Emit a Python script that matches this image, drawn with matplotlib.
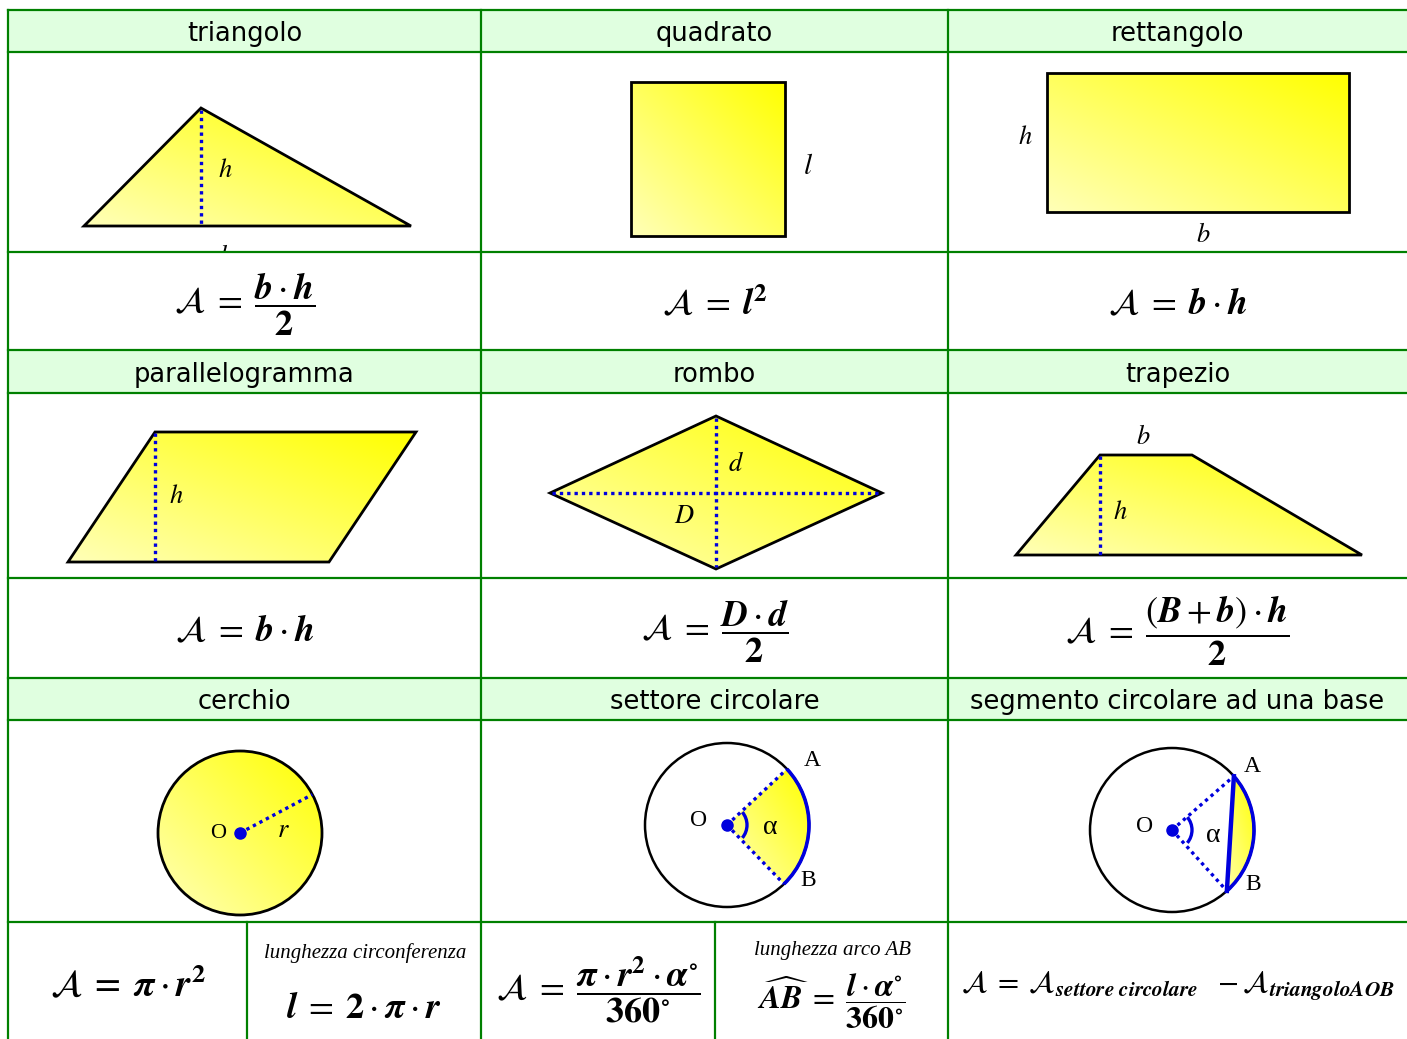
import matplotlib
matplotlib.use("Agg")
import matplotlib.pyplot as plt
import numpy as np
from matplotlib.patches import Polygon, Rectangle, Circle, Wedge, Arc
from matplotlib.colors import LinearSegmentedColormap

plt.rcParams["mathtext.fontset"] = "stix"
plt.rcParams["font.family"] = ["DejaVu Sans"]

# testi della tabella
titoli = [["triangolo", "quadrato", "rettangolo"],
          ["parallelogramma", "rombo", "trapezio"],
          ["cerchio", "settore circolare", "segmento circolare ad una base"]]
formule = [[r"$\mathcal{A}\;=\;\dfrac{\mathbfit{b} \cdot \mathbfit{h}}{\mathbf{2}}$",
            r"$\mathcal{A}\;=\;\mathbfit{l}^{\mathbf{2}}$",
            r"$\mathcal{A}\;=\;\mathbfit{b} \cdot \mathbfit{h}$"],
           [r"$\mathcal{A}\;=\;\mathbfit{b} \cdot \mathbfit{h}$",
            r"$\mathcal{A}\;=\;\dfrac{\mathbfit{D} \cdot \mathbfit{d}}{\mathbf{2}}$",
            r"$\mathcal{A}\;=\;\dfrac{(\mathbfit{B} + \mathbfit{b}) \cdot \mathbfit{h}}{\mathbf{2}}$"]]
formule_cerchi = [r"$\mathcal{A}\;=\;\mathbfit{\pi} \cdot \mathbfit{r}^{\mathbf{2}}$",
                  r"$\mathbfit{l}\;=\;\mathbf{2} \cdot \mathbfit{\pi} \cdot \mathbfit{r}$",
                  r"$\mathcal{A}\;=\;\dfrac{\mathbfit{\pi} \cdot \mathbfit{r}^{\mathbf{2}} \cdot \mathbfit{\alpha}^{\circ}}{\mathbf{360}^{\circ}}$",
                  r"$\widehat{\mathbfit{AB}}\;=\;\dfrac{\mathbfit{l} \cdot \mathbfit{\alpha}^{\circ}}{\mathbf{360}^{\circ}}$",
                  r"$\mathcal{A}\;=\;\mathcal{A}_{\mathbfit{settore\ circolare}}\ \ -\mathcal{A}_{\mathbfit{triangoloAOB}}$"]
note = ["lunghezza circonferenza", "lunghezza arco AB"]

W, H = 1407, 1039
col_x = [8, 481, 948, 1407]
row_y = [10, 52, 252, 350, 393, 578, 678, 720, 922, 1039]
verde = "#008000"
blu = "#0000dd"

giallo = LinearSegmentedColormap.from_list("giallo", ["#ffffb8", "#ffff00"])

fig = plt.figure(figsize=(W / 100, H / 100), dpi=100)
ax = fig.add_axes([0, 0, 1, 1])
ax.set_xlim(0, W)
ax.set_ylim(H, 0)
ax.axis("off")


def riempi(patch, x0, x1, y0, y1, bordo="black", lw=2):
    n = 200
    u = np.linspace(0, 1, n)
    g = (u[None, :] + u[::-1][:, None]) / 2
    im = ax.imshow(g, cmap=giallo, extent=(x0, x1, y1, y0), origin="upper",
                   aspect="auto", zorder=2, interpolation="bilinear")
    patch.set_facecolor("none")
    patch.set_edgecolor(bordo)
    patch.set_linewidth(lw)
    patch.set_zorder(3)
    ax.add_patch(patch)
    im.set_clip_path(patch)


def tratteggio(xs, ys):
    ax.plot(xs, ys, color=blu, lw=2.4, ls=(0, (1, 1.2)), zorder=4)


def lettera(x, y, s, size=19, z=5):
    ax.text(x, y, "$" + s + "$", fontsize=size, ha="center", va="center", zorder=z)


def punto(x, y, s, size=16):
    ax.text(x, y, s, fontsize=size, family="Liberation Serif", ha="center", va="center", zorder=5)


# intestazioni verdi
for i, r in enumerate([0, 3, 6]):
    y0, y1 = row_y[r], row_y[r + 1]
    for j in range(3):
        ax.add_patch(Rectangle((col_x[j], y0), col_x[j + 1] - col_x[j], y1 - y0,
                               facecolor="#e0ffe0", edgecolor="none", zorder=0))
        ax.text((col_x[j] + col_x[j + 1]) / 2, (y0 + y1) / 2 + 3, titoli[i][j],
                fontsize=18.5, ha="center", va="center", zorder=6)

# righe delle formule (bianche, coprono le etichette tagliate)
for r in [2, 5, 8]:
    ax.add_patch(Rectangle((col_x[0], row_y[r]), W - col_x[0], row_y[r + 1] - row_y[r],
                           facecolor="white", edgecolor="none", zorder=5.5))

# triangolo
tri = Polygon([(84, 226), (201, 108), (411, 226)], closed=True, joinstyle="miter")
riempi(tri, 84, 411, 108, 226)
tratteggio([201, 201], [110, 226])
lettera(225, 170, "h")
lettera(226, 257, "b")

# quadrato
riempi(Rectangle((631, 82), 154, 154), 631, 785, 82, 236)
lettera(808, 166, "l", 21)

# rettangolo
riempi(Rectangle((1047, 73), 302, 139), 1047, 1349, 73, 212)
lettera(1025, 137, "h")
lettera(1203, 235, "b")

# parallelogramma
par = Polygon([(68, 562), (155, 432), (416, 432), (329, 562)], closed=True)
riempi(par, 68, 416, 432, 562)
tratteggio([155, 155], [433, 562])
lettera(176, 496, "h")
lettera(218, 591, "b")

# rombo
rom = Polygon([(550, 493), (716, 416), (882, 493), (716, 569)], closed=True)
riempi(rom, 550, 882, 416, 569)
tratteggio([552, 880], [493, 493])
tratteggio([716, 716], [418, 567])
lettera(736, 464, "d")
lettera(684, 516, "D")

# trapezio
tra = Polygon([(1016, 555), (1100, 455), (1192, 455), (1362, 555)], closed=True)
riempi(tra, 1016, 1362, 455, 555)
tratteggio([1100, 1100], [456, 557])
lettera(1143, 437, "b")
lettera(1120, 512, "h")

# cerchio
cx, cy, rr = 240, 833, 82
riempi(Circle((cx, cy), rr), cx - rr, cx + rr, cy - rr, cy + rr)
ang = np.radians(-28)
tratteggio([cx, cx + rr * np.cos(ang)], [cy, cy + rr * np.sin(ang)])
ax.plot(cx, cy, "o", color=blu, ms=8, zorder=5)
punto(218, 833, "O")
lettera(283, 830, "r")

# settore circolare
cx, cy, rr = 727, 825, 82
a1, a2 = -43, 46
ax.add_patch(Circle((cx, cy), rr, facecolor="none", edgecolor="black", lw=1.8, zorder=3))
riempi(Wedge((cx, cy), rr, a1, a2), cx, cx + rr, cy - rr * 0.7, cy + rr * 0.75, bordo="none")
ax.add_patch(Arc((cx, cy), 2 * rr, 2 * rr, theta1=a1, theta2=a2, color=blu, lw=2.6, zorder=4))
for a in [a1, a2]:
    tratteggio([cx, cx + rr * np.cos(np.radians(a))], [cy, cy + rr * np.sin(np.radians(a))])
ax.add_patch(Arc((cx, cy), 40, 40, theta1=-40, theta2=40, color=blu, lw=2.4, zorder=4))
ax.plot(cx, cy, "o", color=blu, ms=8, zorder=5)
punto(699, 820, "O", 17)
punto(770, 828, "α", 20)
punto(812, 761, "A", 17)
punto(808, 880, "B", 17)

# segmento circolare
cx, cy, rr = 1172, 830, 82
a1, a2 = -41, 48
ax.add_patch(Circle((cx, cy), rr, facecolor="none", edgecolor="black", lw=1.8, zorder=3))
t = np.radians(np.linspace(a1, a2, 60))
seg = Polygon(np.column_stack([cx + rr * np.cos(t), cy + rr * np.sin(t)]), closed=True)
riempi(seg, cx + rr * 0.6, cx + rr, cy - rr * 0.7, cy + rr * 0.75, bordo="none")
ax.add_patch(Arc((cx, cy), 2 * rr, 2 * rr, theta1=a1, theta2=a2, color=blu, lw=2.6, zorder=4))
pa = (cx + rr * np.cos(np.radians(a1)), cy + rr * np.sin(np.radians(a1)))
pb = (cx + rr * np.cos(np.radians(a2)), cy + rr * np.sin(np.radians(a2)))
for p in [pa, pb]:
    tratteggio([cx, p[0]], [cy, p[1]])
ax.plot([pa[0], pb[0]], [pa[1], pb[1]], color=blu, lw=3.2, zorder=4)
ax.add_patch(Arc((cx, cy), 40, 40, theta1=-40, theta2=40, color=blu, lw=2.4, zorder=4))
ax.plot(cx, cy, "o", color=blu, ms=8, zorder=5)
punto(1145, 826, "O", 17)
punto(1213, 835, "α", 20)
punto(1252, 766, "A", 17)
punto(1253, 884, "B", 17)

# formule righe 1 e 2
for i, r in enumerate([2, 5]):
    yc = (row_y[r] + row_y[r + 1]) / 2 + 3
    for j in range(3):
        ax.text((col_x[j] + col_x[j + 1]) / 2, yc, formule[i][j], fontsize=26,
                ha="center", va="center", zorder=6)

# formule cerchi
sub_x = [8, 247, 481, 715, 948, 1407]
pos_y = [985, 1008, 990, 1001, 985]
dim = [27, 26, 26, 23, 22]
for k in range(5):
    ax.text((sub_x[k] + sub_x[k + 1]) / 2, pos_y[k], formule_cerchi[k], fontsize=dim[k],
            ha="center", va="center", zorder=6)
ax.text(365, 953, note[0], fontsize=15, style="italic", family="Liberation Serif",
        ha="center", va="center", zorder=6)
ax.text(833, 950, note[1], fontsize=15, style="italic", family="Liberation Serif",
        ha="center", va="center", zorder=6)

# griglia verde
for y in row_y[:-1]:
    ax.plot([col_x[0], W], [y, y], color=verde, lw=1.6, zorder=7)
for x in col_x[:-1]:
    ax.plot([x, x], [row_y[0], H], color=verde, lw=1.6, zorder=7)
for x in [247, 715]:
    ax.plot([x, x], [row_y[8], H], color=verde, lw=1.6, zorder=7)

fig.savefig("out.png", dpi=100)
